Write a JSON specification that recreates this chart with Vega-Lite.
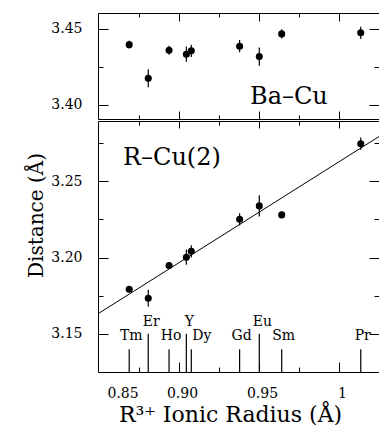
{
  "$schema": "https://vega.github.io/schema/vega-lite/v6.json",
  "padding": {"left": 26, "top": 12, "right": 0, "bottom": 0},
  "background": "white",
  "config": {
    "font": "DejaVu Serif",
    "view": {"stroke": null},
    "axis": {
      "domainColor": "black", "tickColor": "black", "labelColor": "black", "titleColor": "black",
      "grid": false, "labelFont": "DejaVu Serif", "titleFont": "DejaVu Serif",
      "labelFontSize": 14, "titleFontSize": 20, "titleFontWeight": "normal", "tickWidth": 1, "domainWidth": 1
    }
  },
  "datasets": {
    "bacu": [
      {"el": "Tm", "r": 0.8689, "d": 3.4396, "e": 0.0025},
      {"el": "Er", "r": 0.8808, "d": 3.4174, "e": 0.006},
      {"el": "Ho", "r": 0.8938, "d": 3.4359, "e": 0.003},
      {"el": "Y", "r": 0.9046, "d": 3.4333, "e": 0.005},
      {"el": "Dy", "r": 0.9077, "d": 3.4355, "e": 0.004},
      {"el": "Gd", "r": 0.9379, "d": 3.4386, "e": 0.004},
      {"el": "Eu", "r": 0.9502, "d": 3.4317, "e": 0.006},
      {"el": "Sm", "r": 0.9642, "d": 3.4467, "e": 0.003},
      {"el": "Pr", "r": 1.0136, "d": 3.4474, "e": 0.004}
    ],
    "rcu": [
      {"el": "Tm", "r": 0.8689, "d": 3.1792, "e": 0.002},
      {"el": "Er", "r": 0.8808, "d": 3.1733, "e": 0.0055},
      {"el": "Ho", "r": 0.8938, "d": 3.1948, "e": 0.002},
      {"el": "Y", "r": 0.9046, "d": 3.2002, "e": 0.005},
      {"el": "Dy", "r": 0.9077, "d": 3.2041, "e": 0.004},
      {"el": "Gd", "r": 0.9379, "d": 3.2251, "e": 0.004},
      {"el": "Eu", "r": 0.9502, "d": 3.2339, "e": 0.007},
      {"el": "Sm", "r": 0.9642, "d": 3.228, "e": 0.002},
      {"el": "Pr", "r": 1.0136, "d": 3.2747, "e": 0.004}
    ],
    "fit": [
      {"r": 0.8494, "d": 3.1631},
      {"r": 1.025, "d": 3.2794}
    ],
    "elements": [
      {"el": "Tm", "r": 0.8689, "tier": "low"},
      {"el": "Er", "r": 0.8808, "tier": "high"},
      {"el": "Ho", "r": 0.8938, "tier": "low"},
      {"el": "Y", "r": 0.9046, "tier": "high"},
      {"el": "Dy", "r": 0.9077, "tier": "low"},
      {"el": "Gd", "r": 0.9379, "tier": "low"},
      {"el": "Eu", "r": 0.9502, "tier": "high"},
      {"el": "Sm", "r": 0.9642, "tier": "low"},
      {"el": "Pr", "r": 1.0136, "tier": "low"}
    ]
  },
  "spacing": 0,
  "resolve": {"scale": {"x": "independent", "y": "independent"}},
  "vconcat": [
    {
      "width": 281,
      "height": 106,
      "resolve": {"scale": {"x": "independent", "y": "independent"}},
      "layer": [
        {
          "layer": [
            {
              "data": {"name": "bacu"},
              "mark": {"type": "point", "filled": true, "color": "black", "size": 50, "opacity": 1},
              "encoding": {
                "x": {"field": "r", "type": "quantitative",
                  "scale": {"domain": [0.8494, 1.025], "nice": false, "zero": false},
                  "axis": {"orient": "bottom", "values": [0.9], "labels": false, "ticks": false, "title": null, "domain": true}},
                "y": {"field": "d", "type": "quantitative",
                  "scale": {"domain": [3.3905, 3.4605], "nice": false, "zero": false},
                  "axis": {"orient": "left", "values": [3.4, 3.45], "format": ".2f", "title": null, "ticks": false, "labelPadding": 16, "domain": true}}
              }
            },
            {
              "data": {"values": [{"label": "Ba–Cu"}]},
              "mark": {"type": "text", "align": "left", "baseline": "middle", "fontSize": 24, "font": "DejaVu Serif", "color": "black"},
              "encoding": {
                "x": {"datum": 0.9444, "type": "quantitative"},
                "y": {"datum": 3.4051, "type": "quantitative"},
                "text": {"field": "label"}
              }
            }
          ]
        },
        {
          "data": {"name": "bacu"},
          "mark": {"type": "errorbar", "color": "black", "thickness": 1.2},
          "encoding": {
            "x": {"field": "r", "type": "quantitative",
              "scale": {"domain": [0.8494, 1.025], "nice": false, "zero": false},
              "axis": {"orient": "top", "values": [0.9, 0.95, 1.0], "labels": false, "title": null, "domain": true, "tickSize": -8}},
            "y": {"field": "d", "type": "quantitative",
              "scale": {"domain": [3.3905, 3.4605], "nice": false, "zero": false},
              "axis": {"orient": "right", "values": [3.4, 3.45], "labels": false, "title": null, "domain": true, "tickSize": -10}},
            "yError": {"field": "e"}
          }
        },
        {
          "data": {"name": "bacu"},
          "mark": {"type": "point", "opacity": 0},
          "encoding": {
            "x": {"field": "r", "type": "quantitative",
              "scale": {"domain": [0.8494, 1.025], "nice": false, "zero": false},
              "axis": {"orient": "top", "values": [0.875, 0.925, 0.975], "labels": false, "title": null, "domain": false, "tickSize": -4}},
            "y": {"field": "d", "type": "quantitative",
              "scale": {"domain": [3.3905, 3.4605], "nice": false, "zero": false},
              "axis": {"orient": "right", "values": [3.425], "labels": false, "title": null, "domain": false, "tickSize": -5}}
          }
        },
        {
          "data": {"name": "bacu"},
          "mark": {"type": "point", "opacity": 0},
          "encoding": {
            "x": {"field": "r", "type": "quantitative",
              "scale": {"domain": [0.8494, 1.025], "nice": false, "zero": false},
              "axis": {"orient": "bottom", "values": [0.9, 0.95, 1.0], "labels": false, "title": null, "domain": false, "tickSize": -8}},
            "y": {"field": "d", "type": "quantitative",
              "scale": {"domain": [3.3905, 3.4605], "nice": false, "zero": false},
              "axis": {"orient": "left", "values": [3.4, 3.45], "labels": false, "title": null, "domain": false, "tickSize": -10}}
          }
        },
        {
          "data": {"name": "bacu"},
          "mark": {"type": "point", "opacity": 0},
          "encoding": {
            "x": {"field": "r", "type": "quantitative",
              "scale": {"domain": [0.8494, 1.025], "nice": false, "zero": false},
              "axis": {"orient": "bottom", "values": [0.875, 0.925, 0.975], "labels": false, "title": null, "domain": false, "tickSize": -4}},
            "y": {"field": "d", "type": "quantitative",
              "scale": {"domain": [3.3905, 3.4605], "nice": false, "zero": false},
              "axis": {"orient": "left", "values": [3.425], "labels": false, "title": null, "domain": false, "tickSize": -5}}
          }
        }
      ]
    },
    {
      "width": 281,
      "height": 251,
      "resolve": {"scale": {"x": "independent", "y": "independent"}},
      "layer": [
        {
          "layer": [
            {
              "data": {"name": "rcu"},
              "mark": {"type": "point", "filled": true, "color": "black", "size": 50, "opacity": 1},
              "encoding": {
                "x": {"field": "r", "type": "quantitative",
                  "scale": {"domain": [0.8494, 1.025], "nice": false, "zero": false},
                  "axis": {"orient": "bottom", "values": [0.85, 0.9, 0.95, 1.0], "ticks": false, "domain": true,
                    "title": "R³⁺ Ionic Radius (Å)", "titleX": 132, "titleY": 49, "titleBaseline": "alphabetic", "titleAlign": "center", "titleFontSize": 22,
                    "labelPadding": 14, "labelFlush": 3, "labelFlushOffset": -5, "labelOffset": 3,
                    "labelExpr": "datum.value == 1 ? '1' : format(datum.value, '.2f')"}},
                "y": {"field": "d", "type": "quantitative",
                  "scale": {"domain": [3.1249, 3.2896], "nice": false, "zero": false},
                  "axis": {"orient": "left", "values": [3.15, 3.2, 3.25], "format": ".2f", "ticks": false, "domain": true,
                    "title": "Distance (Å)", "titleX": -56, "titleY": 94, "titleBaseline": "alphabetic", "titleAlign": "center", "titleAngle": 270,
                    "labelPadding": 16}}
              }
            },
            {
              "data": {"name": "fit"},
              "mark": {"type": "line", "color": "black", "strokeWidth": 1},
              "encoding": {
                "x": {"field": "r", "type": "quantitative"},
                "y": {"field": "d", "type": "quantitative"}
              }
            },
            {
              "data": {"values": [{"label": "R–Cu(2)"}]},
              "mark": {"type": "text", "align": "left", "baseline": "middle", "fontSize": 24, "font": "DejaVu Serif", "color": "black"},
              "encoding": {
                "x": {"datum": 0.865, "type": "quantitative"},
                "y": {"datum": 3.2653, "type": "quantitative"},
                "text": {"field": "label"}
              }
            },
            {
              "data": {"name": "elements"},
              "transform": [{"filter": "datum.tier == 'low'"}],
              "mark": {"type": "rule", "color": "black", "strokeWidth": 1.2},
              "encoding": {
                "x": {"field": "r", "type": "quantitative"},
                "y": {"datum": 3.1249, "type": "quantitative"},
                "y2": {"datum": 3.1398}
              }
            },
            {
              "data": {"name": "elements"},
              "transform": [{"filter": "datum.tier == 'high'"}],
              "mark": {"type": "rule", "color": "black", "strokeWidth": 1.2},
              "encoding": {
                "x": {"field": "r", "type": "quantitative"},
                "y": {"datum": 3.1249, "type": "quantitative"},
                "y2": {"datum": 3.1500}
              }
            },
            {
              "data": {"name": "elements"},
              "transform": [{"filter": "datum.tier == 'low' && datum.el != 'Dy'"}],
              "mark": {"type": "text", "align": "center", "baseline": "middle", "dx": 2, "fontSize": 14, "font": "DejaVu Serif", "color": "black"},
              "encoding": {
                "x": {"field": "r", "type": "quantitative"},
                "y": {"datum": 3.1483, "type": "quantitative"},
                "text": {"field": "el"}
              }
            },
            {
              "data": {"name": "elements"},
              "transform": [{"filter": "datum.el == 'Dy'"}],
              "mark": {"type": "text", "align": "left", "baseline": "middle", "dx": 1, "fontSize": 14, "font": "DejaVu Serif", "color": "black"},
              "encoding": {
                "x": {"field": "r", "type": "quantitative"},
                "y": {"datum": 3.1483, "type": "quantitative"},
                "text": {"field": "el"}
              }
            },
            {
              "data": {"name": "elements"},
              "transform": [{"filter": "datum.tier == 'high'"}],
              "mark": {"type": "text", "align": "center", "baseline": "middle", "dx": 3, "fontSize": 14, "font": "DejaVu Serif", "color": "black"},
              "encoding": {
                "x": {"field": "r", "type": "quantitative"},
                "y": {"datum": 3.1575, "type": "quantitative"},
                "text": {"field": "el"}
              }
            }
          ]
        },
        {
          "data": {"name": "rcu"},
          "mark": {"type": "errorbar", "color": "black", "thickness": 1.2},
          "encoding": {
            "x": {"field": "r", "type": "quantitative",
              "scale": {"domain": [0.8494, 1.025], "nice": false, "zero": false},
              "axis": {"orient": "top", "values": [0.9, 0.95, 1.0], "labels": false, "title": null, "domain": true, "tickSize": -7}},
            "y": {"field": "d", "type": "quantitative",
              "scale": {"domain": [3.1249, 3.2896], "nice": false, "zero": false},
              "axis": {"orient": "right", "values": [3.15, 3.2, 3.25], "labels": false, "title": null, "domain": true, "tickSize": -10}},
            "yError": {"field": "e"}
          }
        },
        {
          "data": {"name": "rcu"},
          "mark": {"type": "point", "opacity": 0},
          "encoding": {
            "x": {"field": "r", "type": "quantitative",
              "scale": {"domain": [0.8494, 1.025], "nice": false, "zero": false},
              "axis": {"orient": "top", "values": [0.875, 0.925, 0.975], "labels": false, "title": null, "domain": false, "tickSize": -4}},
            "y": {"field": "d", "type": "quantitative",
              "scale": {"domain": [3.1249, 3.2896], "nice": false, "zero": false},
              "axis": {"orient": "right", "values": [3.175, 3.225, 3.275], "labels": false, "title": null, "domain": false, "tickSize": -5}}
          }
        },
        {
          "data": {"name": "rcu"},
          "mark": {"type": "point", "opacity": 0},
          "encoding": {
            "x": {"field": "r", "type": "quantitative",
              "scale": {"domain": [0.8494, 1.025], "nice": false, "zero": false},
              "axis": {"orient": "bottom", "values": [0.9, 0.95, 1.0], "labels": false, "title": null, "domain": false, "tickSize": -10}},
            "y": {"field": "d", "type": "quantitative",
              "scale": {"domain": [3.1249, 3.2896], "nice": false, "zero": false},
              "axis": {"orient": "left", "values": [3.15, 3.2, 3.25], "labels": false, "title": null, "domain": false, "tickSize": -10}}
          }
        },
        {
          "data": {"name": "rcu"},
          "mark": {"type": "point", "opacity": 0},
          "encoding": {
            "x": {"field": "r", "type": "quantitative",
              "scale": {"domain": [0.8494, 1.025], "nice": false, "zero": false},
              "axis": {"orient": "bottom", "values": [0.875, 0.925, 0.975], "labels": false, "title": null, "domain": false, "tickSize": -5}},
            "y": {"field": "d", "type": "quantitative",
              "scale": {"domain": [3.1249, 3.2896], "nice": false, "zero": false},
              "axis": {"orient": "left", "values": [3.175, 3.225, 3.275], "labels": false, "title": null, "domain": false, "tickSize": -5}}
          }
        }
      ]
    }
  ]
}
